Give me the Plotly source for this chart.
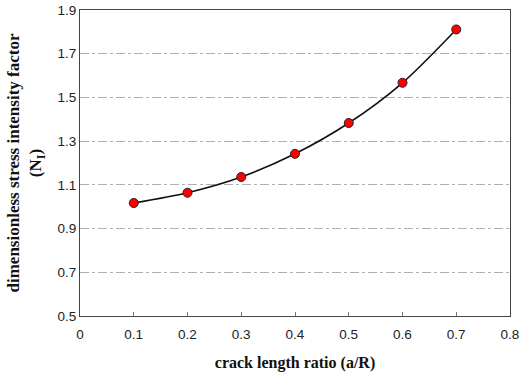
import plotly.graph_objects as go

crack_ratio = [0.1, 0.2, 0.3, 0.4, 0.5, 0.6, 0.7]
sif = [1.017, 1.064, 1.136, 1.242, 1.383, 1.567, 1.811]
x_ticks = [0, 0.1, 0.2, 0.3, 0.4, 0.5, 0.6, 0.7, 0.8]
x_labels = ["0", "0.1", "0.2", "0.3", "0.4", "0.5", "0.6", "0.7", "0.8"]
y_ticks = [0.5, 0.7, 0.9, 1.1, 1.3, 1.5, 1.7, 1.9]
y_labels = ["0.5", "0.7", "0.9", "1.1", "1.3", "1.5", "1.7", "1.9"]

fig = go.Figure()
fig.add_trace(go.Scatter(
    x=crack_ratio, y=sif, mode="lines+markers",
    line=dict(color="#111111", width=1.6, shape="spline", smoothing=0.8),
    marker=dict(color="#ff0000", size=9, line=dict(color="#222222", width=1)),
    showlegend=False,
))

tick_font = dict(family="Liberation Sans, Arial, sans-serif", size=13.5, color="#222222")
x_title_font = dict(family="Liberation Serif, DejaVu Serif, serif", size=16, color="#111111")
y_title_font = dict(family="Liberation Serif, DejaVu Serif, serif", size=17, color="#111111")

fig.update_layout(
    width=520, height=377,
    margin=dict(l=80, r=10, t=10, b=61),
    paper_bgcolor="white", plot_bgcolor="white",
    xaxis=dict(
        range=[0, 0.8], tickvals=x_ticks, ticktext=x_labels,
        showline=True, linecolor="#444444", linewidth=1, mirror=True,
        ticks="inside", ticklen=4, tickcolor="#777777",
        showgrid=False, zeroline=False, tickfont=tick_font,
        ticklabelstandoff=6, automargin=False,
        title=dict(text="<b>crack length ratio (a/R)</b>", font=x_title_font, standoff=15),
    ),
    yaxis=dict(
        range=[0.5, 1.9], tickvals=y_ticks, ticktext=y_labels,
        showline=True, linecolor="#444444", linewidth=1, mirror=True,
        ticks="", showgrid=True, gridcolor="#b0b0b0", griddash="dashdot", gridwidth=1,
        zeroline=False, tickfont=tick_font, automargin=False,
        title=dict(text="<b>dimensionless stress intensity factor<br>(N<sub>I</sub>)</b>",
                   font=y_title_font, standoff=11),
    ),
)

fig.write_html("out.html")
